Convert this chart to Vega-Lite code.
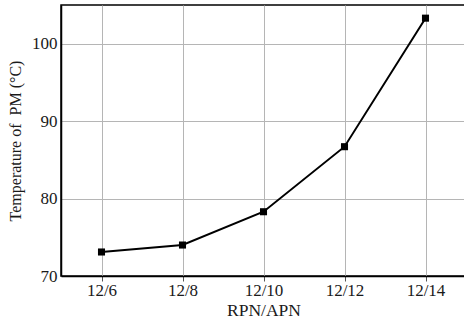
{
  "$schema": "https://vega.github.io/schema/vega-lite/v6.json",
  "width": 405,
  "height": 271,
  "autosize": {"type": "none"},
  "padding": {"left": 61, "top": 5, "right": 0, "bottom": 46},
  "background": "white",
  "config": {
    "font": "Times New Roman, Liberation Serif, serif",
    "view": {"stroke": "black", "strokeWidth": 1.5},
    "axis": {
      "labelFont": "Times New Roman, Liberation Serif, serif",
      "titleFont": "Times New Roman, Liberation Serif, serif",
      "labelFontSize": 17,
      "titleFontSize": 16,
      "titleFontWeight": "normal",
      "labelColor": "#1a1a1a",
      "titleColor": "#1a1a1a",
      "domainColor": "black",
      "domainWidth": 1.5,
      "gridColor": "#b5b5b5",
      "gridWidth": 1,
      "gridOpacity": 1,
      "tickColor": "#555"
    }
  },
  "data": {
    "values": [
      {"ratio": "12/6", "temp": 73.1},
      {"ratio": "12/8", "temp": 74.0},
      {"ratio": "12/10", "temp": 78.3},
      {"ratio": "12/12", "temp": 86.7},
      {"ratio": "12/14", "temp": 103.3}
    ]
  },
  "encoding": {
    "x": {
      "field": "ratio",
      "type": "ordinal",
      "sort": null,
      "scale": {"type": "point", "padding": 0.5},
      "axis": {
        "title": "RPN/APN",
        "titleFontSize": 17.5,
        "labelAngle": 0,
        "grid": true,
        "tickSize": 5,
        "labelPadding": 1,
        "titlePadding": 3
      }
    },
    "y": {
      "field": "temp",
      "type": "quantitative",
      "scale": {"domain": [70, 105], "nice": false, "zero": false},
      "axis": {
        "title": "Temperature of\u00a0 PM (°C)",
        "values": [70, 80, 90, 100],
        "grid": true,
        "ticks": false,
        "labelPadding": 4,
        "titlePadding": 8
      }
    }
  },
  "layer": [
    {"mark": {"type": "line", "color": "black", "strokeWidth": 2}},
    {"mark": {"type": "square", "color": "black", "opacity": 1, "size": 50, "filled": true}}
  ]
}
